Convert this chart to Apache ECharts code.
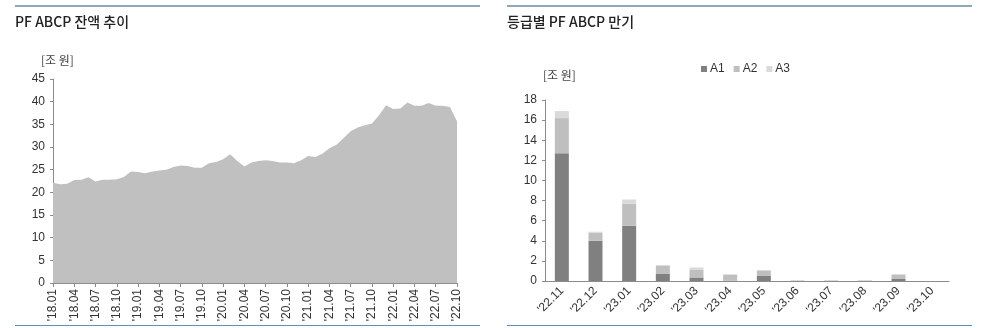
<!DOCTYPE html>
<html><head><meta charset="utf-8">
<script src="https://cdn.jsdelivr.net/npm/echarts@6/dist/echarts.min.js"></script>
<style>html,body{margin:0;padding:0;background:#fff}#c{width:1000px;height:328px}</style>
</head><body><div id="c"></div>
<script>
// ---- Left chart: PF ABCP balance (조원), monthly '18.01 - '22.10
const months = [];
for (let y = 18; y <= 22; y++) for (let m = 1; m <= 12; m++) {
  if (y === 22 && m > 10) break;
  months.push("'" + y + "." + (m < 10 ? "0" + m : m));
}
const balance = [22.1,21.8,21.9,22.7,22.8,23.3,22.4,22.8,22.8,22.9,23.4,24.6,24.5,24.2,
  24.6,24.8,25.0,25.6,25.9,25.8,25.4,25.4,26.4,26.7,27.3,28.4,26.9,25.7,26.6,26.9,
  27.1,26.9,26.6,26.6,26.4,27.1,28.0,27.8,28.5,29.7,30.5,32.0,
  33.5,34.3,34.8,35.2,37.0,39.2,38.4,38.5,39.8,39.1,39.1,39.7,39.1,39.1,38.8,35.7];

// ---- Right chart: maturity by grade (조원)
const maturities = ["'22.11","'22.12","'23.01","'23.02","'23.03","'23.04","'23.05","'23.06","'23.07","'23.08","'23.09","'23.10"];
const a1 = [12.7, 4.0, 5.5, 0.7, 0.35, 0.03, 0.5, 0.02, 0.02, 0.02, 0.2, 0];
const a2 = [3.5, 0.8, 2.2, 0.8, 0.75, 0.6, 0.55, 0.03, 0.03, 0.03, 0.45, 0];
const a3 = [0.7, 0.1, 0.4, 0.1, 0.25, 0.05, 0.0, 0, 0, 0, 0.0, 0];

const FONT = "'Liberation Sans', 'Noto Sans CJK KR', sans-serif";
const KFONT = "'Noto Sans CJK KR', 'Liberation Sans', sans-serif";
const axisCol = '#8c8c8c';
const txtCol = '#333';

const chart = echarts.init(document.getElementById('c'), null, {renderer: 'canvas'});
chart.setOption({
  animation: false,
  textStyle: {fontFamily: FONT},
  graphic: [
    {type: 'rect', shape: {x: 15, y: 5, width: 465, height: 2}, style: {fill: '#8fa6b6'}},
    {type: 'rect', shape: {x: 507, y: 5, width: 465, height: 2}, style: {fill: '#8fa6b6'}},
    {type: 'rect', shape: {x: 15, y: 325, width: 465, height: 1}, style: {fill: '#5f8fbf'}},
    {type: 'rect', shape: {x: 507, y: 325, width: 465, height: 1}, style: {fill: '#5f8fbf'}},
    {type: 'text', left: 15, top: 15, style: {text: 'PF ABCP 잔액 추이', font: "500 14px " + KFONT, fill: '#222'}},
    {type: 'text', left: 507, top: 15, style: {text: '등급별 PF ABCP 만기', font: "500 14px " + KFONT, fill: '#222'}},
    {type: 'text', left: 41, top: 54, style: {text: '[조 원]', font: "12px " + KFONT, fill: '#444'}},
    {type: 'text', left: 543, top: 69, style: {text: '[조 원]', font: "12px " + KFONT, fill: '#444'}}
  ],
  legend: {
    data: ['A1', 'A2', 'A3'], left: 696, top: 58, itemWidth: 6, itemHeight: 6, itemGap: 9,
    icon: 'rect', textStyle: {fontSize: 12, color: txtCol, padding: [0, 0, 0, -2]}
  },
  grid: [
    {left: 53, right: 543, top: 79, bottom: 45},
    {left: 545, right: 51, top: 100, bottom: 47}
  ],
  xAxis: [
    {type: 'category', gridIndex: 0, data: months, boundaryGap: false,
     axisLine: {lineStyle: {color: axisCol}},
     axisTick: {interval: 2, length: 4, lineStyle: {color: axisCol}},
     axisLabel: {interval: 2, rotate: 90, fontSize: 12, color: txtCol, margin: 6}},
    {type: 'category', gridIndex: 1, data: maturities,
     axisLine: {lineStyle: {color: axisCol}},
     axisTick: {length: 4, lineStyle: {color: axisCol}},
     axisLabel: {rotate: 45, fontSize: 12, color: txtCol, margin: 8}}
  ],
  yAxis: [
    {type: 'value', gridIndex: 0, min: 0, max: 45, interval: 5,
     axisLine: {show: true, lineStyle: {color: axisCol}},
     axisTick: {show: true, length: 3, lineStyle: {color: axisCol}},
     splitLine: {show: false},
     axisLabel: {fontSize: 12, color: txtCol, margin: 8}},
    {type: 'value', gridIndex: 1, min: 0, max: 18, interval: 2,
     axisLine: {show: true, lineStyle: {color: axisCol}},
     axisTick: {show: true, length: 3, lineStyle: {color: axisCol}},
     splitLine: {show: false},
     axisLabel: {fontSize: 12, color: txtCol, margin: 8}}
  ],
  series: [
    {type: 'line', xAxisIndex: 0, yAxisIndex: 0, data: balance, symbol: 'none',
     lineStyle: {width: 0}, areaStyle: {color: '#c0c0c0', opacity: 1}},
    {name: 'A1', type: 'bar', xAxisIndex: 1, yAxisIndex: 1, stack: 'g', data: a1, barWidth: 14, itemStyle: {color: '#808080'}},
    {name: 'A2', type: 'bar', xAxisIndex: 1, yAxisIndex: 1, stack: 'g', data: a2, barWidth: 14, itemStyle: {color: '#bfbfbf'}},
    {name: 'A3', type: 'bar', xAxisIndex: 1, yAxisIndex: 1, stack: 'g', data: a3, barWidth: 14, itemStyle: {color: '#dadada'}}
  ]
});
</script></body></html>
